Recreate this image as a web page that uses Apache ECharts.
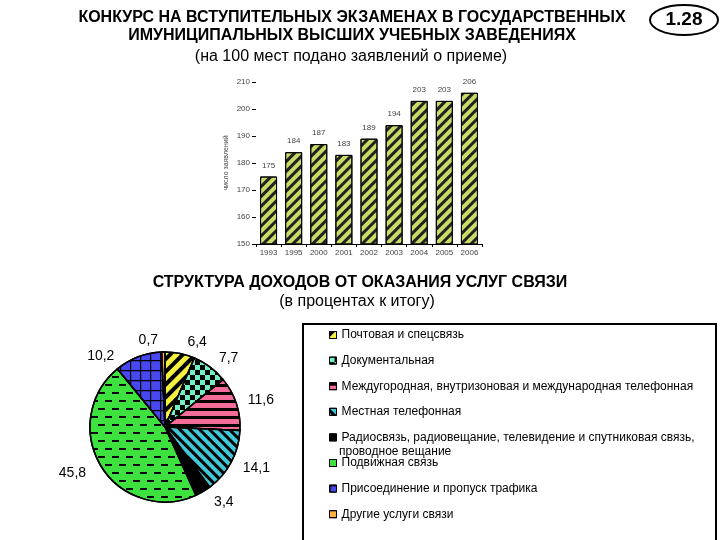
<!DOCTYPE html>
<html><head><meta charset="utf-8">
<script src="https://cdn.jsdelivr.net/npm/echarts@6/dist/echarts.min.js"></script>
<style>html,body{margin:0;padding:0;background:#fff}#c{width:720px;height:540px}</style>
</head><body><div id="c"></div>
<script>
const barCategories = ['1993','1995','2000','2001','2002','2003','2004','2005','2006'];
const barValues = [175,184,187,183,189,194,203,203,206];
const yMin = 150, yMax = 210, yStep = 10;

const pieNames = [
  'Почтовая и спецсвязь',
  'Документальная',
  'Междугородная, внутризоновая и международная телефонная',
  'Местная телефонная',
  'Радиосвязь, радиовещание, телевидение и спутниковая связь,\nпроводное вещание',
  'Подвижная связь',
  'Присоединение и пропуск трафика',
  'Другие услуги связи'
];
const pieValues = [6.4, 7.7, 11.6, 14.1, 3.4, 45.8, 10.2, 0.7];
const pieColors = ['#f4f040','#70f0c8','#f46c98','#40c8d8','#000000','#3ee23e','#4848f0','#ffb040'];

const F = '"Liberation Sans", Arial, sans-serif';
const stripe = (rot, on, off) => ({symbol:'rect', symbolSize:1, color:'#000', dashArrayX:[1,0], dashArrayY:[on,off], rotation:rot});
const pieDecals = [
  stripe(-Math.PI/4, 3.5, 4.5),
  {symbol:'rect', symbolSize:1, color:'#000', dashArrayX:[[5,5],[0,5,5,0]], dashArrayY:[5,0]},
  stripe(0, 3, 5),
  stripe(Math.PI/4, 2.5, 3.5),
  null,
  {symbol:'rect', symbolSize:1, color:'#000', dashArrayX:[[7,7],[0,7,7,0]], dashArrayY:[2,6]},
  {symbol:'path://M0,0 L10,0 L10,1.2 L0,1.2 Z M0,0 L1.2,0 L1.2,10 L0,10 Z', symbolSize:1, color:'#000', dashArrayX:[10,0], dashArrayY:[10,0]},
  null
];

const chart = echarts.init(document.getElementById('c'));
const legends = pieNames.map((n, i) => ({
  data:[n], orient:'vertical', left:324, top: 323 + i*25.6,
  icon:'rect', itemWidth:7, itemHeight:7, itemGap:0,
  itemStyle:{borderColor:'#000', borderWidth:1},
  formatter: name => name.split('\n')[0],
  textStyle:{fontFamily:F, fontSize:12, color:'#000', lineHeight:14},
  selectedMode:false
}));
const extraLegendLines = pieNames.map((n, i) => ({n, i})).filter(o => o.n.includes('\n')).map(o => ({
  type:'text', style:{text:o.n.split('\n')[1], x:339, y:323 + o.i*25.6 + 5 + 15,
    font:'12px '+F, fill:'#000'}
}));

chart.setOption({
  animation:false,
  backgroundColor:'#fff',
  graphic:[
    {type:'text', style:{text:'КОНКУРС НА ВСТУПИТЕЛЬНЫХ ЭКЗАМЕНАХ В ГОСУДАРСТВЕННЫХ', x:352, y:10, textAlign:'center', font:'bold 16px '+F, fill:'#000'}},
    {type:'text', style:{text:'ИМУНИЦИПАЛЬНЫХ ВЫСШИХ УЧЕБНЫХ ЗАВЕДЕНИЯХ', x:352, y:28, textAlign:'center', font:'bold 16px '+F, fill:'#000'}},
    {type:'text', style:{text:'(на 100 мест подано заявлений о приеме)', x:351, y:49, textAlign:'center', font:'16px '+F, fill:'#000'}},
    {type:'ellipse', shape:{cx:684, cy:20, rx:34, ry:15}, style:{fill:'#fff', stroke:'#000', lineWidth:2}},
    {type:'text', style:{text:'1.28', x:684, y:10, textAlign:'center', font:'bold 19px '+F, fill:'#000'}},
    {type:'text', style:{text:'СТРУКТУРА ДОХОДОВ ОТ ОКАЗАНИЯ УСЛУГ СВЯЗИ', x:360, y:275, textAlign:'center', font:'bold 16px '+F, fill:'#000'}},
    {type:'text', style:{text:'(в процентах к итогу)', x:357, y:294, textAlign:'center', font:'16px '+F, fill:'#000'}},
    {type:'rect', shape:{x:303, y:324, width:413, height:230}, style:{fill:'none', stroke:'#000', lineWidth:2}}
  ].concat(extraLegendLines),
  legend: legends,
  grid:{left:256, right:238, top:82, bottom:296},
  xAxis:{type:'category', data:barCategories,
    axisLine:{lineStyle:{color:'#000', width:1}},
    axisTick:{show:true, inside:false, length:3, lineStyle:{color:'#000'}},
    axisLabel:{fontFamily:F, fontSize:8, color:'#444', margin:5}},
  yAxis:{type:'value', min:yMin, max:yMax, interval:yStep,
    name:'число заявлений', nameLocation:'middle', nameGap:26, nameRotate:90,
    nameTextStyle:{fontFamily:F, fontSize:7, color:'#444'},
    axisLine:{show:false}, splitLine:{show:false},
    axisTick:{show:true, length:4, lineStyle:{color:'#000'}},
    axisLabel:{fontFamily:F, fontSize:8, color:'#444', margin:6}},
  series:[
    {type:'bar', data:barValues, barWidth:17,
      itemStyle:{color:'#c8dc66', borderColor:'#000', borderWidth:1,
        decal:{symbol:'rect', symbolSize:1, color:'#222', dashArrayX:[1,0], dashArrayY:[3,3.5], rotation:-Math.PI/4}},
      label:{show:true, position:'top', distance:7, fontFamily:F, fontSize:8, color:'#444'}},
    {type:'pie', center:[165,427], radius:75, startAngle:90, clockwise:true,
      data: pieNames.map((n,i)=>({name:n, value:pieValues[i],
        itemStyle:{color:pieColors[i], decal: pieDecals[i] || {symbol:'none'}}})),
      itemStyle:{borderColor:'#000', borderWidth:1.5},
      label:{show:true, position:'outside', fontFamily:F, fontSize:14, color:'#000',
        formatter: p => String(p.value).replace('.', ',')},
      labelLine:{show:false, length:12, length2:0},
      emphasis:{disabled:true}}
  ]
});
</script></body></html>
